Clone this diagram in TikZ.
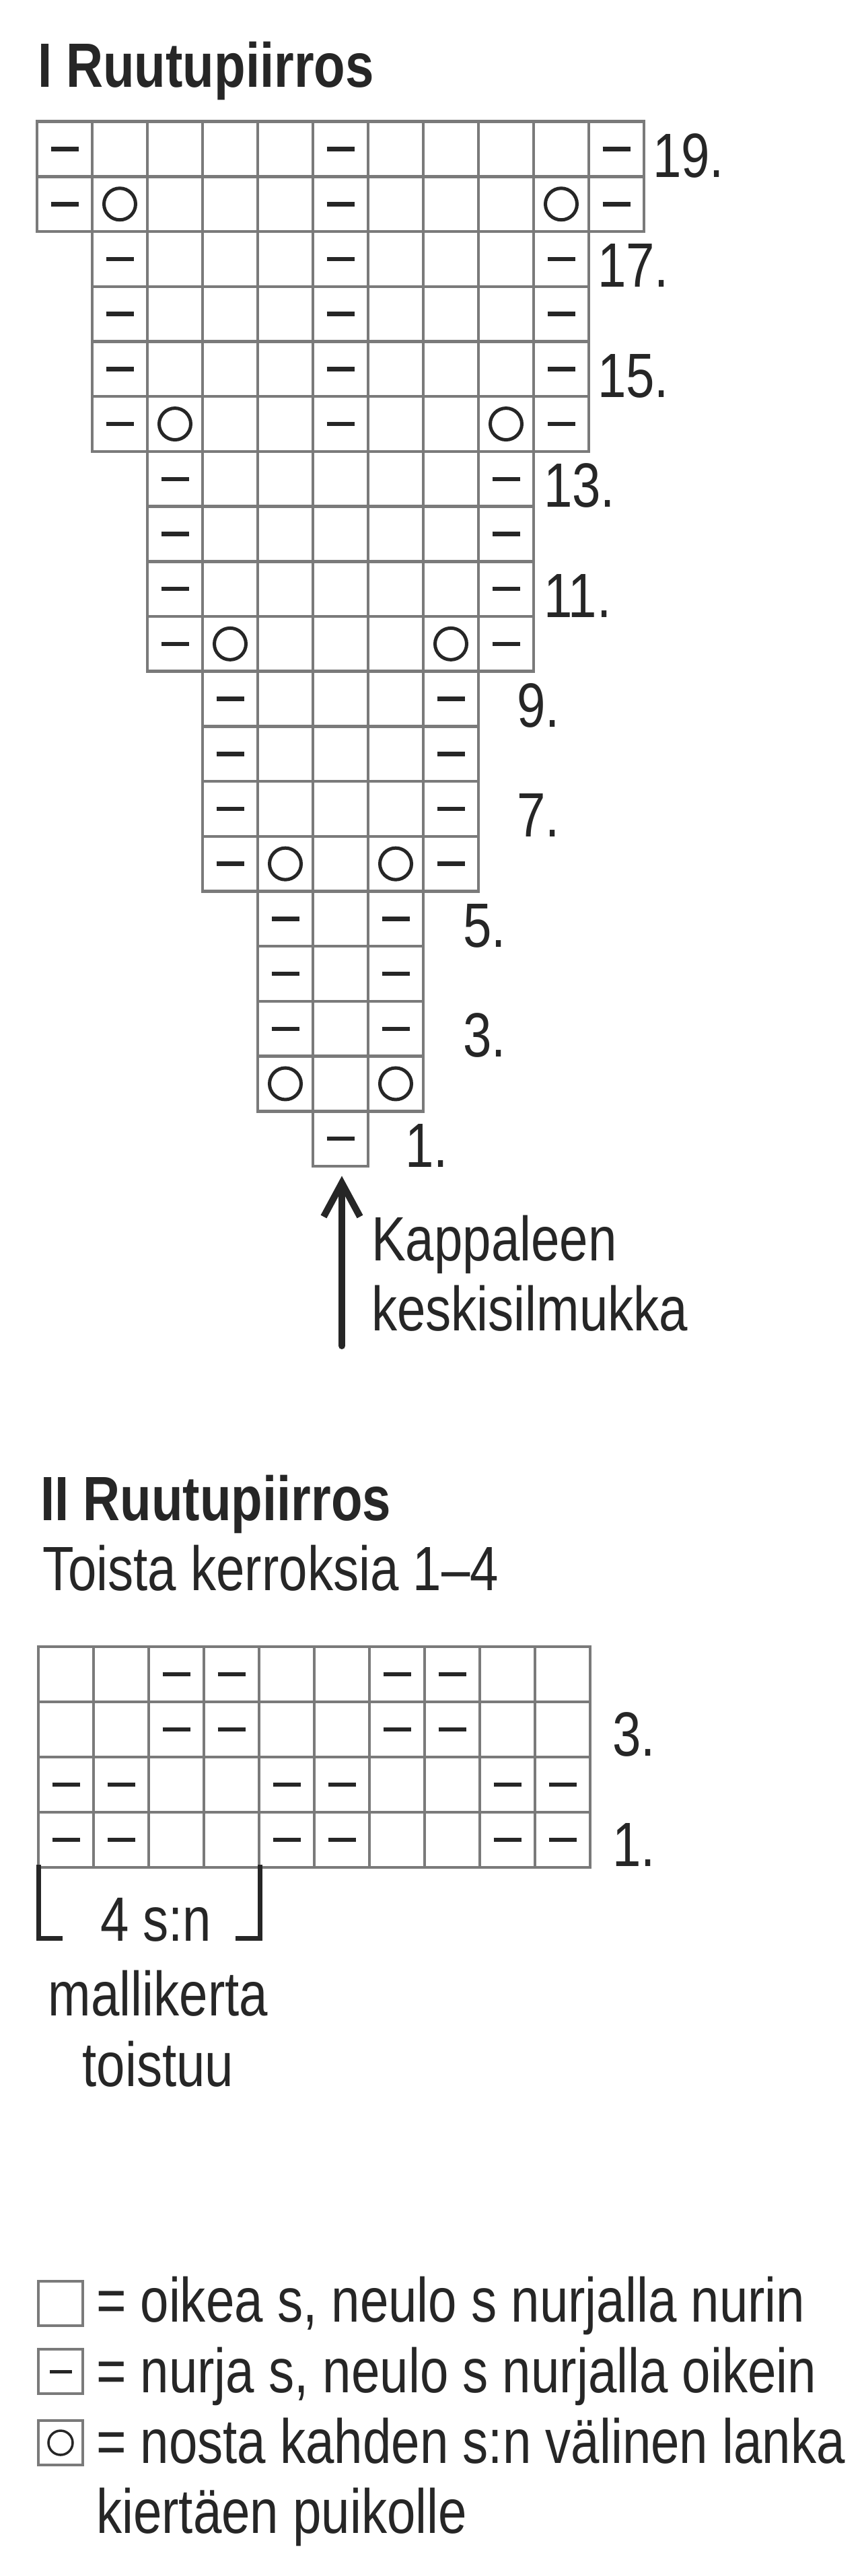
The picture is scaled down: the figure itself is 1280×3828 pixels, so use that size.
\documentclass[tikz,border=0pt]{standalone}
\usepackage{fontspec}
\setmainfont{Liberation Sans}[FakeStretch=0.82]
\usetikzlibrary{calc}
\definecolor{ink}{HTML}{262626}
\definecolor{gridgrey}{HTML}{7A7A7A}
\begin{document}
\begin{tikzpicture}[x=1pt,y=-1pt,
  gridline/.style={draw=gridgrey,line width=4.5pt},
  dashsym/.style={draw=ink,line width=6.5pt,line cap=butt},
  circsym/.style={draw=ink,line width=5pt},
  txt/.style={inner sep=0pt,outer sep=0pt,text=ink,anchor=base west,font=\fontsize{93}{104}\selectfont},
  arrowline/.style={draw=ink,line width=10pt},
  bracketline/.style={draw=ink,line width=7pt,line join=miter}]
\fill[white] (0,0) rectangle (1280,3828);
\useasboundingbox (0,0) rectangle (1280,3828);

% ---------- Chart I ----------
\node[txt] (titleI) at (56,129) {\bfseries I Ruutupiirros};
\foreach \r/\a/\b in {19/0/10,18/0/10,17/1/9,16/1/9,15/1/9,14/1/9,13/2/8,12/2/8,11/2/8,10/2/8,9/3/7,8/3/7,7/3/7,6/3/7,5/4/6,4/4/6,3/4/6,2/4/6,1/5/5}{
  \foreach \c in {\a,...,\b}{
    \draw[gridline] ({55+82*\c},{1733-\r*81.7}) rectangle ++(82,81.7);
  }
}
\foreach \c/\r in {0/19,5/19,10/19,0/18,5/18,10/18,1/17,5/17,9/17,1/16,5/16,9/16,1/15,5/15,9/15,1/14,5/14,9/14,2/13,8/13,2/12,8/12,2/11,8/11,2/10,8/10,3/9,7/9,3/8,7/8,3/7,7/7,3/6,7/6,4/5,6/5,4/4,6/4,4/3,6/3,5/1}{
  \draw[dashsym] ({55+82*\c+20.5},{1733-(\r-0.5)*81.7}) -- ++(41,0);
}
\foreach \c/\r in {1/18,9/18,2/14,8/14,3/10,7/10,4/6,6/6,4/2,6/2}{
  \draw[circsym] ({55+82*\c+41},{1733-(\r-0.5)*81.7}) circle (23.5pt);
}
\node[txt] (r19) at (970,263.4) {19.};
\node[txt] (r17) at (888,426.8) {17.};
\node[txt] (r15) at (888,590.2) {15.};
\node[txt] (r13) at (808,753.6) {13.};
\node[txt] (r11) at (808,917) {11.};
\node[txt] (r9) at (768,1080.4) {9.};
\node[txt] (r7) at (768,1243.8) {7.};
\node[txt] (r5) at (688,1407.2) {5.};
\node[txt] (r3) at (688,1570.6) {3.};
\node[txt] (r1) at (602,1734) {1.};

% arrow
\coordinate (arrtip) at (508,1758);
\coordinate (arrbot) at (508,2000);
\draw[arrowline,line cap=round] (arrbot) -- ($(arrtip)+(0,4)$);
\draw[arrowline,line join=miter,line cap=butt] ($(arrtip)+(-27,50)$) -- (arrtip) -- ($(arrtip)+(27,50)$);
\node[txt] (kap1) at (552,1873) {Kappaleen};
\node[txt] (kap2) at (552,1977) {keskisilmukka};

% ---------- Chart II ----------
\node[txt] (titleII) at (60,2259) {\bfseries II Ruutupiirros};
\node[txt] (toista) at (63,2363) {Toista kerroksia 1–4};
\foreach \r in {1,...,4}{
  \foreach \c in {0,...,9}{
    \draw[gridline] ({57+82*\c},{2775-\r*82}) rectangle ++(82,82);
  }
}
\foreach \c/\r in {2/4,3/4,6/4,7/4,2/3,3/3,6/3,7/3,0/2,1/2,4/2,5/2,8/2,9/2,0/1,1/1,4/1,5/1,8/1,9/1}{
  \draw[dashsym] ({57+82*\c+20.5},{2775-(\r-0.5)*82}) -- ++(41,0);
}
\node[txt] (s3) at (910,2609) {3.};
\node[txt] (s1) at (910,2773) {1.};

% bracket
\coordinate (bl0) at (57,2771);
\coordinate (bl1) at (57,2880);
\coordinate (bl2) at (93,2880);
\coordinate (br0) at (386,2771);
\coordinate (br1) at (386,2880);
\coordinate (br2) at (350,2880);
\draw[bracketline] (bl0) -- (bl1) -- (bl2);
\draw[bracketline] (br0) -- (br1) -- (br2);
\node[txt] (rep1) at (149,2884) {4 s:n};
\node[txt,anchor=base] (rep2) at (235,2995) {mallikerta};
\node[txt,anchor=base] (rep3) at (235,3100) {toistuu};

% ---------- Legend ----------
\draw[gridline,line width=4pt] (57,3390) rectangle (123,3456);
\draw[gridline,line width=4pt] (57,3491) rectangle (123,3557);
\draw[dashsym,line width=5pt] (74,3524) -- (107,3524);
\draw[gridline,line width=4pt] (57,3597) rectangle (123,3663);
\draw[circsym,line width=3.5pt] (90,3630) circle (18pt);
\node[txt] (lg1) at (143,3450) {= oikea s, neulo s nurjalla nurin};
\node[txt] (lg2) at (143,3555) {= nurja s, neulo s nurjalla oikein};
\node[txt] (lg3) at (143,3660) {= nosta kahden s:n välinen lanka};
\node[txt] (lg4) at (143,3764) {kiertäen puikolle};
\end{tikzpicture}
\end{document}
